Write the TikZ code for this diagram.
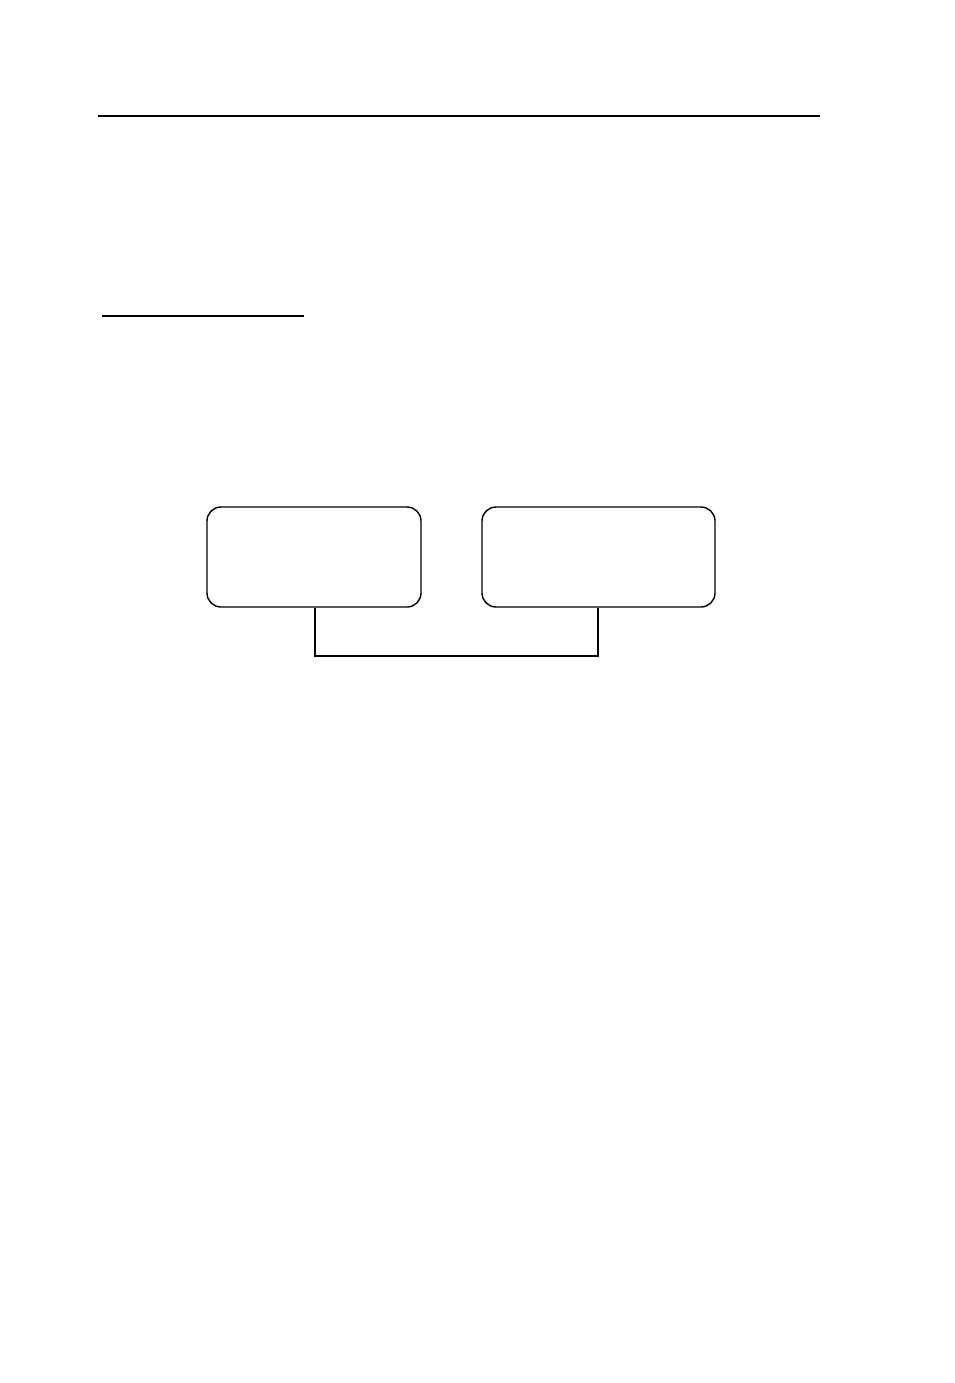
\documentclass[tikz,border=0pt]{standalone}
\begin{document}
\begin{tikzpicture}[x=1pt,y=-1pt,
  rule/.style={line width=2.2pt},
  panel/.style={draw,line width=1.4pt,rounded corners=14pt,minimum width=#1,minimum height=100pt,inner sep=0pt},
  link/.style={line width=1.1pt}]
\useasboundingbox[fill=white] (0,0) rectangle (954,1383);
\coordinate (r1a) at (98,116);
\coordinate (r1b) at (820,116);
\draw[rule] (r1a) -- (r1b);
\coordinate (r2a) at (102,316);
\coordinate (r2b) at (304,316);
\draw[rule] (r2a) -- (r2b);
\node[panel=214pt] (left) at (314,557) {};
\node[panel=233pt] (right) at (598.5,557) {};
\coordinate (lj) at (315,656);
\coordinate (rj) at (598,656);
\draw[link] (left.south -| lj) -- (lj) -- (rj) -- (right.south -| rj);
\end{tikzpicture}
\end{document}
